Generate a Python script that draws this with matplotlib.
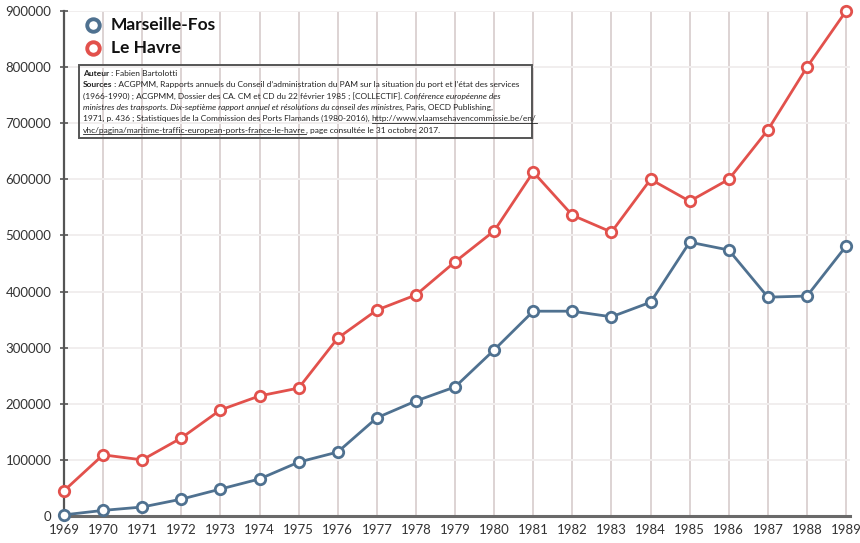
import matplotlib
matplotlib.use("Agg")
import matplotlib.pyplot as plt
from matplotlib.lines import Line2D
from matplotlib.patches import Rectangle

years = list(range(1969, 1990))
marseille_fos = [2000, 10000, 16000, 30000, 48000, 66000, 96000, 114000, 175000, 205000,
                 230000, 296000, 365000, 365000, 355000, 381000, 488000, 474000, 390000, 392000, 481000]
le_havre = [45000, 109000, 100000, 139000, 189000, 214000, 228000, 317000, 367000, 394000,
            453000, 508000, 613000, 536000, 506000, 600000, 561000, 600000, 688000, 800000, 900000]
series_names = ["Marseille-Fos", "Le Havre"]
yticks = list(range(0, 900001, 100000))

BLUE = "#4f7190"
RED = "#e2514c"
FONT = ["Lato", "DejaVu Sans"]
plt.rcParams['font.family'] = FONT

W, H = 860, 543
fig = plt.figure(figsize=(W / 100, H / 100), dpi=100)
left, right, top, bottom = 64, 850, 11, 516
ax = fig.add_axes([left / W, (H - bottom) / H, (right - left) / W, (bottom - top) / H])

ax.set_xlim(1969, 1989.1)
ax.set_ylim(0, 900000)
ax.set_xticks(years)
ax.set_xticklabels([str(y) for y in years])
ax.set_yticks(yticks)
ax.set_yticklabels([str(v) for v in yticks])

for y in years:
    ax.axvline(y, color="#ddd3d3", lw=1.4, zorder=0)
for v in yticks[1:]:
    ax.axhline(v, color="#f1eeee", lw=1.4, zorder=0)

for s in ["top", "right"]:
    ax.spines[s].set_visible(False)
ax.spines["left"].set_color("#555555")
ax.spines["left"].set_linewidth(1.6)
ax.spines["bottom"].set_color("#6a6a6a")
ax.spines["bottom"].set_linewidth(2.2)

ax.tick_params(axis="y", direction="inout", length=6, width=1.2, color="#555555",
               labelsize=9.5, labelcolor="#333333", pad=6)
ax.tick_params(axis="x", length=0, labelsize=9.5, labelcolor="#333333", pad=6)

colors = [BLUE, RED]
for vals, col in [(marseille_fos, BLUE), (le_havre, RED)]:
    ax.plot(years, vals, color=col, lw=2.0, marker="o", markersize=7.5,
            markerfacecolor="white", markeredgecolor=col, markeredgewidth=2.0,
            clip_on=False, zorder=3)

# legend (manual placement)
for i, (name, col) in enumerate(zip(series_names, colors)):
    yc = 25 + i * 23
    fig.add_artist(Line2D([93 / W], [1 - yc / H], ls="none", marker="o", markersize=9,
                          markerfacecolor="white", markeredgecolor=col, markeredgewidth=2.8))
    fig.text(111 / W, 1 - yc / H, name, fontsize=12.5, fontweight="bold", color="#111111",
             va="center", ha="left")

# source box
fig.canvas.draw()
renderer = fig.canvas.get_renderer()
fs = 6.0
lines = [
    [("Auteur", "bold", "normal", False), (" : Fabien Bartolotti", "normal", "normal", False)],
    [("Sources", "bold", "normal", False),
     (" : ACGPMM, Rapports annuels du Conseil d\u2019administration du PAM sur la situation du port et l\u2019\u00e9tat des services", "normal", "normal", False)],
    [("(1966-1990) ; ACGPMM, Dossier des CA. CM et CD du 22 f\u00e9vrier 1985 ; [COLLECTIF]. ", "normal", "normal", False),
     ("Conf\u00e9rence europ\u00e9enne des", "normal", "italic", False)],
    [("ministres des transports. Dix-septi\u00e8me rapport annuel et r\u00e9solutions du conseil des ministres", "normal", "italic", False),
     (", Paris, OECD Publishing,", "normal", "normal", False)],
    [("1971, p. 436 ; Statistiques de la Commission des Ports Flamands (1980-2016), ", "normal", "normal", False),
     ("http://www.vlaamsehavencommissie.be/en/", "normal", "normal", True)],
    [("vhc/pagina/maritime-traffic-european-ports-france-le-havre", "normal", "normal", True),
     (", page consult\u00e9e le 31 octobre 2017.", "normal", "normal", False)],
]
x0, y0 = 83, 76
lh = 11.3
for i, segs in enumerate(lines):
    x = x0
    yp = y0 + i * lh
    for txt, wt, st, ul in segs:
        t = fig.text(x / W, 1 - yp / H, txt, fontsize=fs, fontweight=wt, fontstyle=st,
                     color="#222222", va="baseline", ha="left")
        bb = t.get_window_extent(renderer)
        if ul:
            fig.add_artist(Line2D([x / W, (x + bb.width) / W],
                                  [1 - (yp + 1.5) / H, 1 - (yp + 1.5) / H],
                                  color="#222222", lw=0.6))
        x += bb.width
fig.add_artist(Rectangle((79 / W, 1 - 138 / H), (532 - 79) / W, (138 - 65) / H,
                         transform=fig.transFigure, fill=False, edgecolor="#555555", lw=1.4))

fig.savefig("out.png", dpi=100, facecolor="white")
